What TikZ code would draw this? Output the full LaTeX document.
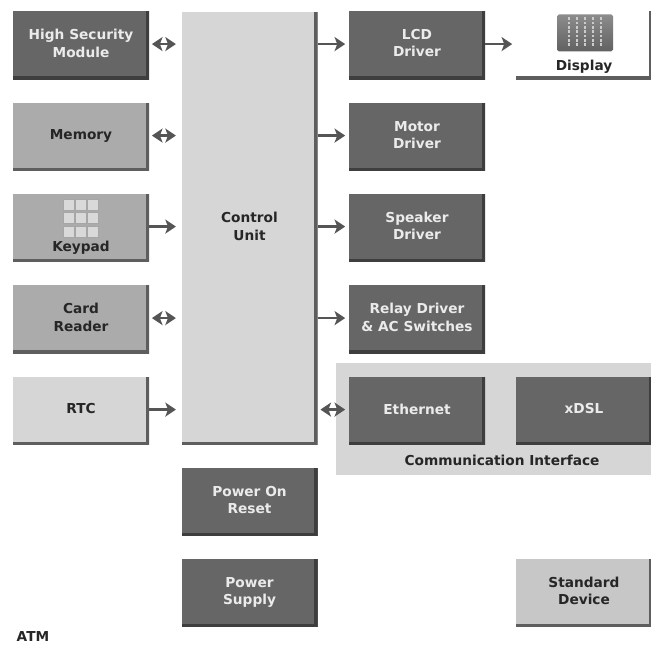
\documentclass[tikz,border=0pt]{standalone}
\usepackage{fontspec}
\setmainfont{DejaVu Sans}
\usepackage{tikz}
\usetikzlibrary{arrows.meta,positioning,calc}
\definecolor{darkbox}{HTML}{666666}
\definecolor{darkedge}{HTML}{3E3E3E}
\definecolor{midbox}{HTML}{ABABAB}
\definecolor{midedge}{HTML}{5E5E5E}
\definecolor{palebox}{HTML}{D6D6D6}
\definecolor{arrowgray}{HTML}{555555}

\begin{document}
\begin{tikzpicture}[
    block/.style={minimum width=2.72cm, minimum height=1.36cm, align=center, inner sep=0pt,
        font=\bfseries\fontsize{7.8}{9.7}\selectfont, text depth=2.5pt},
    edged/.style={path picture={
        \draw[#1, line width=1.7mm*0.5]
            ($(path picture bounding box.north east)+(-0.02,0)$) --
            ($(path picture bounding box.south east)+(-0.02,0.02)$) --
            ($(path picture bounding box.south west)+(0,0.02)$);}},
    dark/.style={block, fill=darkbox, text=white!92!black, edged=darkedge},
    mid/.style={block, fill=midbox, text=black!85, edged=midedge},
    pale/.style={block, fill=palebox, text=black!85, edged=midedge},
    plain/.style={block, fill=white, text=black!85, edged=midedge},
    lbl/.style={font=\bfseries\fontsize{7.8}{9.7}\selectfont, text=black!85, inner sep=0pt},
    arr/.style={-{Stealth[length=6pt,width=8pt,inset=1.5pt]}, line width=1.5pt, arrowgray, transform canvas={yshift=0.8pt}},
    darr/.style={{Stealth[length=6pt,width=8pt,inset=1.5pt]}-{Stealth[length=6pt,width=8pt,inset=1.5pt]}, line width=1.5pt, arrowgray, transform canvas={yshift=0.8pt}},
    cell/.style={fill=white!85!black, draw=gray!70, line width=0.3pt, minimum width=0.22cm, minimum height=0.22cm, inner sep=0pt}
]
\useasboundingbox (0,0) rectangle (13.02,12.94);

\node[minimum width=6.3cm, minimum height=2.24cm, fill=palebox, inner sep=0pt] (comm) at (9.87,4.56) {};

\node[dark] (hsm) at (1.62,12.03) {High Security\\Module};
\node[mid] (memory) at (1.62,10.2) {Memory};
\node[mid] (keypad) at (1.62,8.38) {};
\node[mid] (card) at (1.62,6.55) {Card\\Reader};
\node[pale] (rtc) at (1.62,4.72) {RTC};

\node[pale, minimum height=8.66cm] (ctrl) at (4.99,8.37) {Control\\Unit};
\node[dark] (reset) at (4.99,2.9) {Power On\\Reset};
\node[dark] (supply) at (4.99,1.08) {Power\\Supply};

\node[dark] (lcd) at (8.34,12.03) {LCD\\Driver};
\node[dark] (motor) at (8.34,10.2) {Motor\\Driver};
\node[dark] (speaker) at (8.34,8.38) {Speaker\\Driver};
\node[dark] (relay) at (8.34,6.55) {Relay Driver\\\& AC Switches};
\node[dark] (eth) at (8.34,4.72) {Ethernet};
\node[dark] (xdsl) at (11.68,4.72) {xDSL};

\node[plain] (display) at (11.68,12.03) {};
\node[mid, fill=black!22] (std) at (11.68,1.08) {Standard\\Device};

\node[lbl] (commlbl) at (10.04,3.73) {Communication Interface};
\node[lbl] (atm) at (0.66,0.21) {ATM};
\node[lbl] (keylbl) at (1.62,7.99) {Keypad};
\node[lbl] (displbl) at (11.68,11.6) {Display};

% keypad icon
\foreach \r in {0,1,2} {
    \foreach \c in {0,1,2} {
        \node[cell] (key\r\c) at ({1.62+(\c-1)*0.24},{8.58+(1-\r)*0.27}) {};
    }
}

% display icon
\node[minimum width=1.12cm, minimum height=0.74cm, inner sep=0pt, rounded corners=1pt,
    top color=black!45, bottom color=black!62] (screen) at (11.7,12.28) {};
\foreach \c in {-2,-1,0,1,2} {
    \draw[white!80!black, line width=1.6pt, dash pattern=on 1.5pt off 1pt] ($(screen.north)+(\c*0.16,-0.06)$) -- ($(screen.south)+(\c*0.16,0.1)$);
}

% arrows into the control unit
\draw[darr, shorten <=1.5pt, shorten >=3pt] (hsm.east) -- (hsm.east -| ctrl.west);
\draw[darr, shorten <=1.5pt, shorten >=3pt] (memory.east) -- (memory.east -| ctrl.west);
\draw[arr, shorten >=3pt] (keypad.east) -- (keypad.east -| ctrl.west);
\draw[darr, shorten <=1.5pt, shorten >=3pt] (card.east) -- (card.east -| ctrl.west);
\draw[arr, shorten >=3pt] (rtc.east) -- (rtc.east -| ctrl.west);

% arrows out of it
\draw[arr, shorten >=2pt] (lcd.west -| ctrl.east) -- (lcd.west);
\draw[arr, shorten >=2pt] (motor.west -| ctrl.east) -- (motor.west);
\draw[arr, shorten >=2pt] (speaker.west -| ctrl.east) -- (speaker.west);
\draw[arr, shorten >=2pt] (relay.west -| ctrl.east) -- (relay.west);
\draw[darr, shorten <=1.5pt, shorten >=2pt] (eth.west -| ctrl.east) -- (eth.west);
\draw[arr, shorten >=2pt] (lcd.east) -- (display.west);
\end{tikzpicture}
\end{document}
